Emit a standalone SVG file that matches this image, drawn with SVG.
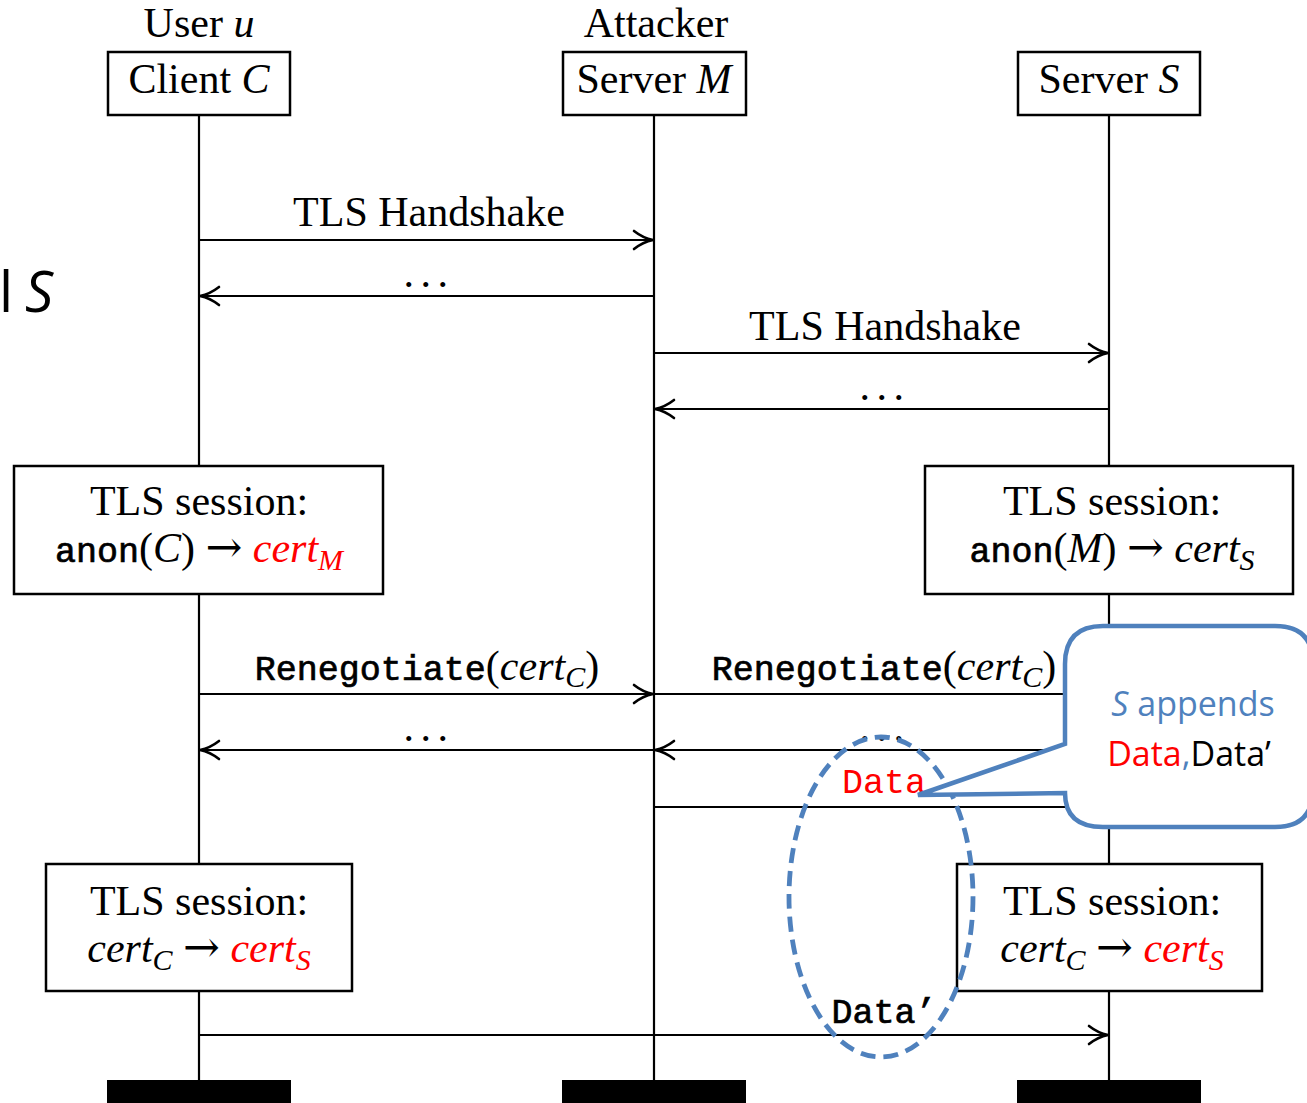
<svg xmlns="http://www.w3.org/2000/svg" width="1307" height="1103" viewBox="0 0 1307 1103">
<style>
.rm{font-family:"Liberation Serif",serif;font-size:42px;fill:#000}
.it{font-style:italic}
.tt{font-family:"Liberation Mono",monospace;font-size:35px;stroke:#000;stroke-width:0.7px}
.sub{font-size:30px}
.red{fill:#ff0000}
.tt.red{stroke:none}
.ar{font-family:"DejaVu Serif",serif;font-size:44px}
.box{fill:#fff;stroke:#000;stroke-width:2.5}
.life{stroke:#000;stroke-width:2.2;fill:none}
.msg{stroke:#000;stroke-width:2.2;fill:none;marker-end:url(#ah)}
.dots{font-family:"Liberation Serif",serif;font-size:42px;letter-spacing:6.5px}
.blue{fill:#4F81BD}
.cal{font-family:"Open Sans","Liberation Sans",sans-serif;font-size:34px}
</style>
<defs>
<marker id="ah" markerUnits="userSpaceOnUse" markerWidth="24" markerHeight="22" viewBox="-22 -11 24 22" refX="0" refY="0" orient="auto">
<path d="M-19,-9 C-12,-3.5 -5,-1 0,0 C-5,1 -12,3.5 -19,9" fill="none" stroke="#000" stroke-width="2.6" stroke-linecap="round"/>
</marker>
</defs>
<rect width="1307" height="1103" fill="#fff"/>

<text x="-1" y="312" font-family="Open Sans, Liberation Sans, sans-serif" font-size="56" fill="#000">l</text>
<text x="25" y="312" font-family="Open Sans, Liberation Sans, sans-serif" font-size="56" font-style="italic" fill="#000">S</text>

<g id="lifelines">
<line class="life" x1="199" y1="115" x2="199" y2="1080"/>
<line class="life" x1="654" y1="115" x2="654" y2="1080"/>
<line class="life" x1="1109" y1="115" x2="1109" y2="1080"/>
</g>

<g id="connectors">
<line class="msg" x1="199" y1="240" x2="653" y2="240"/>
<text class="rm" x="429" y="226" text-anchor="middle">TLS Handshake</text>
<line class="msg" x1="654" y1="296" x2="200" y2="296"/>
<text class="dots" x="429" y="287" text-anchor="middle">...</text>
<line class="msg" x1="654" y1="353" x2="1108" y2="353"/>
<text class="rm" x="885" y="340" text-anchor="middle">TLS Handshake</text>
<line class="msg" x1="1109" y1="409" x2="655" y2="409"/>
<text class="dots" x="885" y="400" text-anchor="middle">...</text>

<line class="msg" x1="199" y1="694" x2="653" y2="694"/>
<text class="rm" x="427" y="680" text-anchor="middle"><tspan class="tt">Renegotiate</tspan>(<tspan class="it">cert</tspan><tspan class="it sub" dy="7">C</tspan><tspan dy="-7">)</tspan></text>
<line class="msg" x1="654" y1="694" x2="1108" y2="694"/>
<text class="rm" x="884" y="680" text-anchor="middle"><tspan class="tt">Renegotiate</tspan>(<tspan class="it">cert</tspan><tspan class="it sub" dy="7">C</tspan><tspan dy="-7">)</tspan></text>
<line class="msg" x1="654" y1="750" x2="200" y2="750"/>
<text class="dots" x="429" y="741" text-anchor="middle">...</text>
<line class="msg" x1="1109" y1="750" x2="655" y2="750"/>
<text class="dots" x="885" y="741" text-anchor="middle">...</text>
<line class="msg" x1="654" y1="807" x2="1108" y2="807"/>
<text class="tt red" x="884" y="793" text-anchor="middle" font-size="34">Data</text>
<line class="msg" x1="199" y1="1035" x2="1108" y2="1035"/>
<text class="tt" x="884" y="1023" text-anchor="middle" font-size="33">Data’</text>
</g>

<g id="client">
<text class="rm" x="199" y="37" text-anchor="middle">User <tspan class="it">u</tspan></text>
<rect class="box" x="108" y="52" width="182" height="63"/>
<text class="rm" x="199" y="93" text-anchor="middle">Client <tspan class="it">C</tspan></text>
</g>
<g id="attacker">
<text class="rm" x="656" y="37" text-anchor="middle">Attacker</text>
<rect class="box" x="563" y="52" width="183" height="63"/>
<text class="rm" x="654" y="93" text-anchor="middle">Server <tspan class="it">M</tspan></text>
</g>
<g id="server">
<rect class="box" x="1018" y="52" width="182" height="63"/>
<text class="rm" x="1109" y="93" text-anchor="middle">Server <tspan class="it">S</tspan></text>
</g>

<g id="session-c1">
<rect class="box" x="14" y="466" width="369" height="128"/>
<text class="rm" x="199" y="515" text-anchor="middle">TLS session:</text>
<text class="rm" x="199" y="562" text-anchor="middle"><tspan class="tt">anon</tspan>(<tspan class="it">C</tspan>) <tspan class="ar">→</tspan> <tspan class="it red">cert</tspan><tspan class="it sub red" dy="8">M</tspan></text>
</g>
<g id="session-s1">
<rect class="box" x="925" y="466" width="368" height="128"/>
<text class="rm" x="1112" y="515" text-anchor="middle">TLS session:</text>
<text class="rm" x="1112" y="562" text-anchor="middle"><tspan class="tt">anon</tspan>(<tspan class="it">M</tspan>) <tspan class="ar">→</tspan> <tspan class="it">cert</tspan><tspan class="it sub" dy="8">S</tspan></text>
</g>
<g id="session-c2">
<rect class="box" x="46" y="864" width="306" height="127"/>
<text class="rm" x="199" y="915" text-anchor="middle">TLS session:</text>
<text class="rm" x="199" y="962" text-anchor="middle"><tspan class="it">cert</tspan><tspan class="it sub" dy="8">C</tspan><tspan dy="-8"> </tspan><tspan class="ar">→</tspan> <tspan class="it red">cert</tspan><tspan class="it sub red" dy="8">S</tspan></text>
</g>
<g id="session-s2">
<rect class="box" x="957" y="864" width="305" height="127"/>
<text class="rm" x="1112" y="915" text-anchor="middle">TLS session:</text>
<text class="rm" x="1112" y="962" text-anchor="middle"><tspan class="it">cert</tspan><tspan class="it sub" dy="8">C</tspan><tspan dy="-8"> </tspan><tspan class="ar">→</tspan> <tspan class="it red">cert</tspan><tspan class="it sub red" dy="8">S</tspan></text>
</g>

<g id="ends">
<rect x="107" y="1080" width="184" height="23" fill="#000"/>
<rect x="562" y="1080" width="184" height="23" fill="#000"/>
<rect x="1017" y="1080" width="184" height="23" fill="#000"/>
</g>

<g id="highlight">
<ellipse cx="881" cy="897" rx="92" ry="160" fill="none" stroke="#4F81BD" stroke-width="4.8" stroke-dasharray="15 8"/>
</g>

<g id="callout">
<path d="M1103,626 H1275 Q1313,626 1313,664 V789 Q1313,827 1275,827 H1103 Q1065,827 1065,793 L918,795 L1065,744 V664 Q1065,626 1103,626 Z" fill="#fff" stroke="#4F81BD" stroke-width="4.5" stroke-linejoin="miter"/>
<text class="cal blue" x="1193" y="716" text-anchor="middle"><tspan font-style="italic">S</tspan> appends</text>
<text class="cal" x="1189" y="766" text-anchor="middle"><tspan fill="#ff0000">Data</tspan><tspan class="blue">,</tspan><tspan fill="#000">Data’</tspan></text>
</g>
</svg>
